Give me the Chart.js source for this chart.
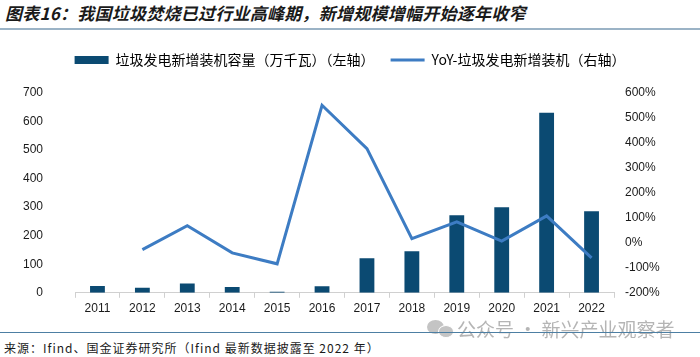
<!DOCTYPE html>
<html><head><meta charset="utf-8">
<script src="https://cdn.jsdelivr.net/npm/chart.js@4/dist/chart.umd.min.js"></script>
<style>
html,body{margin:0;padding:0;background:#fff;}
#wrap{position:relative;width:700px;height:357px;overflow:hidden;font-family:"Noto Sans CJK SC",sans-serif;}
#title{position:absolute;left:5px;top:0px;font-size:17px;line-height:26px;font-weight:bold;font-style:italic;color:#1a1a1a;white-space:nowrap;letter-spacing:0.25px;}
#tline{position:absolute;left:0;top:28px;width:700px;height:2px;background:#9bb3c6;}
#cv{position:absolute;left:0;top:37px;}
#bline{position:absolute;left:0;top:332px;width:700px;height:1px;background:#4d7fa3;}
#src{position:absolute;left:4px;top:339px;font-size:12px;line-height:18px;color:#1a1a1a;white-space:nowrap;letter-spacing:1px;}
#wm{position:absolute;left:457px;top:316px;font-size:19px;line-height:26px;color:#b5b5b5;white-space:nowrap;}
#ico{position:absolute;left:427px;top:320px;width:17px;height:14px;border-radius:50%;background:#c4c4c4;}
#ico2{position:absolute;left:438px;top:325px;width:14px;height:11px;border-radius:50%;background:#c4c4c4;border:1px solid #fff;}
</style></head>
<body><div id="wrap">
<div id="title">图表16：我国垃圾焚烧已过行业高峰期，新增规模增幅开始逐年收窄</div>
<div id="tline"></div>
<canvas id="cv" width="700" height="287"></canvas>
<div id="ico"></div><div id="ico2"></div>
<div id="wm">公众号 · 新兴产业观察者</div>
<div id="bline"></div>
<div id="src">来源：Ifind、国金证券研究所（Ifind 最新数据披露至 2022 年）</div>
</div>
<script>
const years = ['2011','2012','2013','2014','2015','2016','2017','2018','2019','2020','2021','2022'];
const capacity = [24, 18, 33, 20, 4, 23, 121, 146, 272, 300, 631, 286];
const yoy = [null, -27, 69, -40, -84, 551, 377, 17, 84, 7, 108, -60];
const leftTicks = [0,100,200,300,400,500,600,700];
const rightTicks = [-200,-100,0,100,200,300,400,500,600];
const barLabel = '垃圾发电新增装机容量（万千瓦）（左轴）';
const lineLabel = 'YoY-垃圾发电新增装机（右轴）';

const tickFont = {family:'"Liberation Sans", Arial, sans-serif', size:12};
const legendGap = {
  id:'legendGap',
  beforeInit(chart){
    const orig = chart.legend.fit;
    chart.legend.fit = function(){ orig.call(this); this.height += 16; };
  }
};
new Chart(document.getElementById('cv'), {
  data: {
    labels: years,
    datasets: [
      {type:'bar', label: barLabel, data: capacity, yAxisID:'y', backgroundColor:'#0b4a72', borderWidth:0, barPercentage:0.66, categoryPercentage:0.5, order:1},
      {type:'line', label: lineLabel, data: yoy, yAxisID:'y1', borderColor:'#3d7cc3', backgroundColor:'#3d7cc3', borderWidth:3, pointRadius:0, tension:0, order:0}
    ]
  },
  plugins:[legendGap],
  options: {
    responsive:false, animation:false,
    layout:{padding:{left:0, right:0, top:0, bottom:0}},
    plugins:{
      tooltip:{enabled:false},
      legend:{
        position:'top', align:'center',
        labels:{
          usePointStyle:true, pointStyleWidth:34, boxHeight:8, padding:16,
          font:{family:'"Noto Sans CJK SC", sans-serif', size:14}, color:'#1a1a1a',
          generateLabels(chart){
            const ds = chart.data.datasets;
            return [
              {text: ds[0].label, fillStyle: ds[0].backgroundColor, strokeStyle: ds[0].backgroundColor, lineWidth:0, pointStyle:'rect', datasetIndex:0},
              {text: ds[1].label, fillStyle: ds[1].borderColor, strokeStyle: ds[1].borderColor, lineWidth:3, pointStyle:'line', datasetIndex:1}
            ];
          }
        }
      }
    },
    scales:{
      x:{
        grid:{display:true, offset:true, drawOnChartArea:false, drawTicks:true, tickLength:5, color:'#d0d0d0'},
        border:{color:'#d0d0d0'},
        ticks:{font:tickFont, color:'#1a1a1a', padding:4, maxRotation:0}
      },
      y:{
        type:'linear', position:'left', min:0, max:700,
        afterBuildTicks(s){ s.ticks = leftTicks.map(v=>({value:v})); },
        ticks:{font:tickFont, color:'#1a1a1a', padding:24, callback:v=>String(v)},
        afterFit(s){ s.width = 75; },
        grid:{display:false}, border:{display:false}
      },
      y1:{
        type:'linear', position:'right', min:-200, max:600,
        afterBuildTicks(s){ s.ticks = rightTicks.map(v=>({value:v})); },
        ticks:{font:tickFont, color:'#1a1a1a', padding:3, callback:v=>v+'%'},
        afterFit(s){ s.width = 86; },
        grid:{display:false}, border:{display:false}
      }
    }
  }
});
</script>
</body></html>
